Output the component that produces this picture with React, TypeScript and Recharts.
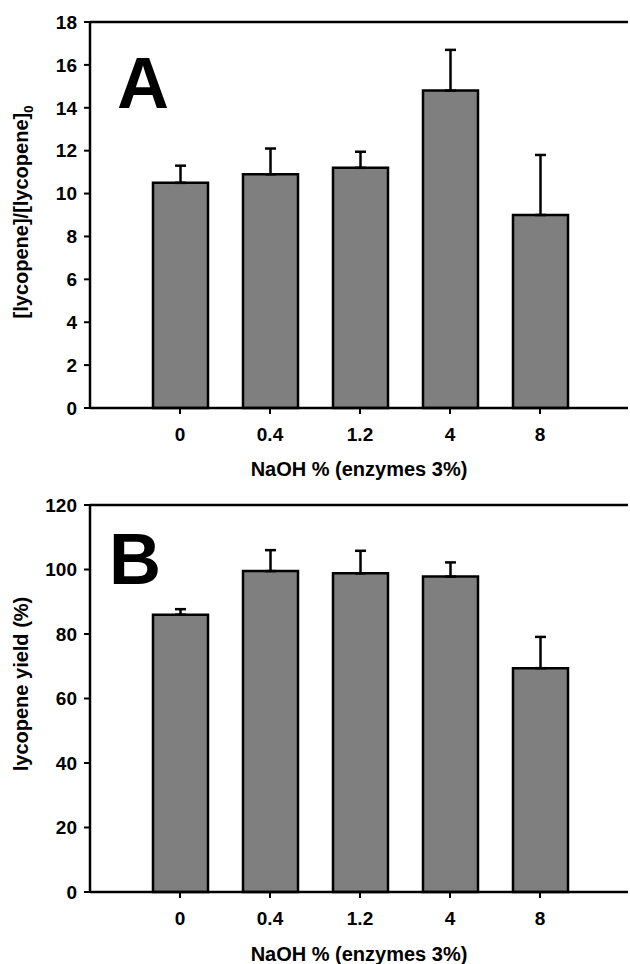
import { BarChart, Bar, XAxis, YAxis, ErrorBar, ReferenceLine, Label, Customized } from "recharts";

// NaOH concentrations (enzymes fixed at 3%)
const naohLevels = ["0", "0.4", "1.2", "4", "8"];

// panel A: [lycopene]/[lycopene]0
const lycopeneRatio = [10.5, 10.9, 11.2, 14.8, 9.0];
const lycopeneRatioSd = [0.8, 1.2, 0.75, 1.9, 2.8];
const ratioTicks = [0, 2, 4, 6, 8, 10, 12, 14, 16, 18];

// panel B: lycopene yield (%)
const lycopeneYield = [86, 99.5, 98.8, 97.8, 69.4];
const lycopeneYieldSd = [1.7, 6.5, 7.0, 4.4, 9.7];
const yieldTicks = [0, 20, 40, 60, 80, 100, 120];

const FONT = '"Liberation Sans", Arial, Helvetica, sans-serif';
const AXIS = { stroke: "#000", strokeWidth: 2.5 };

const buildRows = (values: number[], sd: number[]) =>
  naohLevels.map((level, i) => ({ level, value: values[i], err: [0, sd[i]] }));

const YTitle = ({ cy, children }: { cy: number; children: any }) => (
  <text
    x={28}
    y={cy}
    transform={`rotate(-90, 28, ${cy})`}
    textAnchor="middle"
    fontFamily={FONT}
    fontWeight="bold"
    fontSize={20}
    fill="#000"
  >
    {children}
  </text>
);

interface PanelProps {
  letter: string;
  letterY: number;
  letterX: number;
  values: number[];
  sd: number[];
  ticks: number[];
  height: number;
  top: number;
  xAxisHeight: number;
  titleOffset: number;
  yTitleY: number;
  yTitle: any;
}

const Panel = (p: PanelProps) => {
  const rows = buildRows(p.values, p.sd);
  const max = p.ticks[p.ticks.length - 1];
  return (
    <BarChart
      width={630}
      height={p.height}
      data={rows}
      margin={{ top: p.top, right: 2, bottom: 0, left: 0 }}
      style={{ fontFamily: FONT }}
    >
      <XAxis
        dataKey="level"
        height={p.xAxisHeight}
        padding={{ left: 45, right: 43 }}
        axisLine={AXIS}
        tickLine={{ stroke: "#000", strokeWidth: 2 }}
        tickSize={6}
        tickMargin={14}
        tick={{ fill: "#000", fontSize: 19, fontWeight: "bold", fontFamily: FONT }}
      >
        <Label
          value="NaOH % (enzymes 3%)"
          position="insideBottom"
          offset={p.titleOffset}
          style={{ fill: "#000", fontSize: 20, fontWeight: "bold", fontFamily: FONT }}
        />
      </XAxis>
      <YAxis
        width={90}
        domain={[0, max]}
        ticks={p.ticks}
        interval={0}
        axisLine={AXIS}
        tickLine={{ stroke: "#000", strokeWidth: 2 }}
        tickSize={6}
        tickMargin={7}
        tick={{ fill: "#000", fontSize: 19, fontWeight: "bold", fontFamily: FONT }}
      />
      <YAxis
        yAxisId="right"
        orientation="right"
        width={0}
        domain={[0, max]}
        tick={false}
        tickLine={false}
        axisLine={{ stroke: "#d4d4d4", strokeWidth: 1.5 }}
      />
      <ReferenceLine y={max} stroke="#000" strokeWidth={2.5} />
      <Bar
        dataKey="value"
        barSize={55}
        fill="#7f7f7f"
        stroke="#000"
        strokeWidth={2.5}
        isAnimationActive={false}
      >
        <ErrorBar dataKey="err" width={5.5} stroke="#000" strokeWidth={2.5} direction="y" />
      </Bar>
      <Customized
        component={() => (
          <g>
            <text
              x={p.letterX}
              y={p.letterY}
              fontFamily={FONT}
              fontWeight="bold"
              fontSize={72}
              fill="#000"
            >
              {p.letter}
            </text>
            <YTitle cy={p.yTitleY}>{p.yTitle}</YTitle>
          </g>
        )}
      />
    </BarChart>
  );
};

export default function App() {
  return (
    <div style={{ position: "absolute", left: 0, top: 0, width: 630, height: 964, background: "#fff" }}>
      <Panel
        letter="A"
        letterX={117}
        letterY={108}
        values={lycopeneRatio}
        sd={lycopeneRatioSd}
        ticks={ratioTicks}
        height={482}
        top={22}
        xAxisHeight={74}
        titleOffset={6}
        yTitleY={212}
        yTitle={
          <>
            [lycopene]/[lycopene]
            <tspan fontSize={13} dy={5}>0</tspan>
          </>
        }
      />
      <Panel
        letter="B"
        letterX={109}
        letterY={102}
        values={lycopeneYield}
        sd={lycopeneYieldSd}
        ticks={yieldTicks}
        height={482}
        top={23}
        xAxisHeight={72}
        titleOffset={3}
        yTitleY={202}
        yTitle="lycopene yield (%)"
      />
    </div>
  );
}
